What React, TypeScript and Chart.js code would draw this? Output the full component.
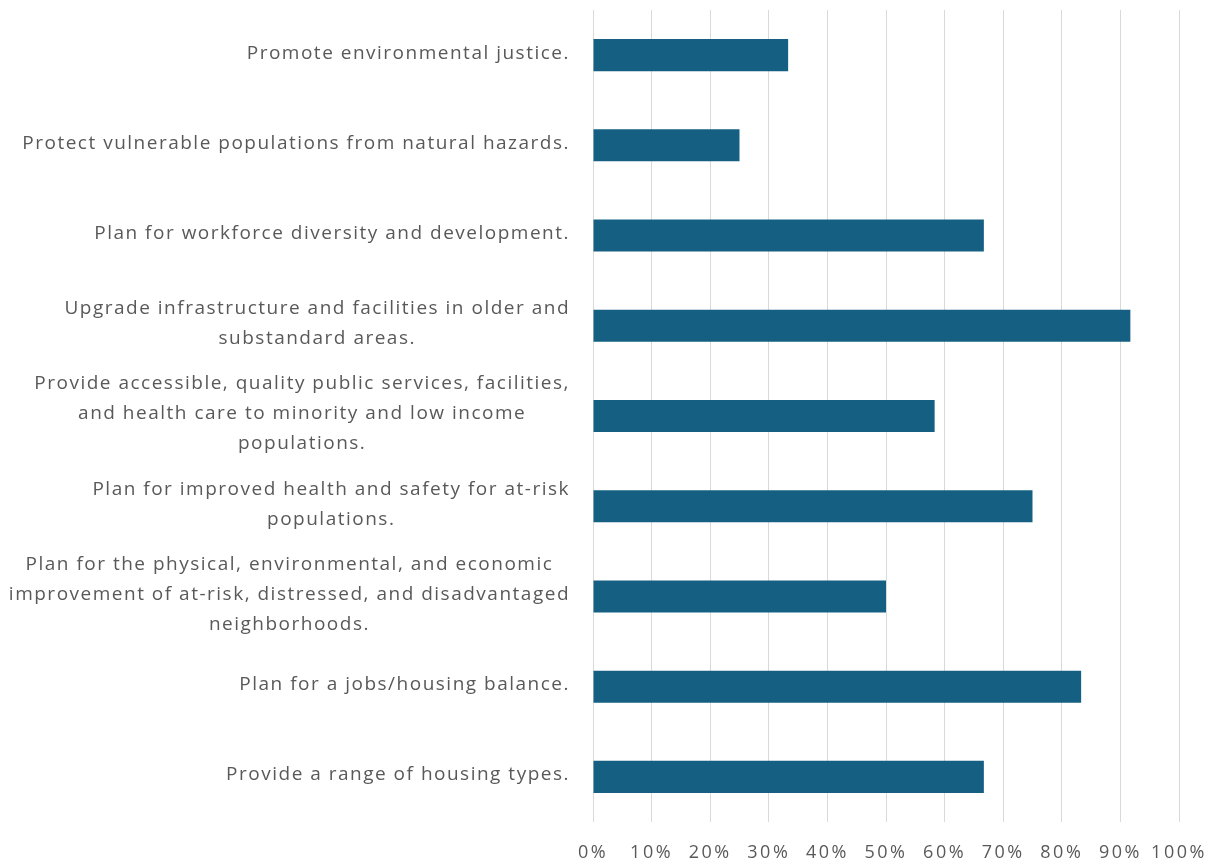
import React, { useEffect, useRef } from "react";
import { Chart, registerables } from "chart.js";

Chart.register(...registerables);

const categories: string[][] = [
  ["Promote environmental justice."],
  ["Protect vulnerable populations from natural hazards."],
  ["Plan for workforce diversity and development."],
  ["Upgrade infrastructure and facilities in older and", "substandard areas."],
  ["Provide accessible, quality public services, facilities,", "and health care to minority and low income", "populations."],
  ["Plan for improved health and safety for at-risk", "populations."],
  ["Plan for the physical, environmental, and economic", "improvement of at-risk, distressed, and disadvantaged", "neighborhoods."],
  ["Plan for a jobs/housing balance."],
  ["Provide a range of housing types."],
];

const values: number[] = [33.3, 25, 66.7, 91.7, 58.3, 75, 50, 83.3, 66.7];

const xTicks: number[] = [0, 10, 20, 30, 40, 50, 60, 70, 80, 90, 100];

const FONT = "'Open Sans', 'Liberation Sans', sans-serif";
const TEXT_COLOR = "#595959";

const labelPlugin = {
  id: "blockLabels",
  beforeDraw(chart: any) {
    (chart.ctx as any).letterSpacing = "2.5px";
  },
  afterDraw(chart: any) {
    const ctx = chart.ctx as CanvasRenderingContext2D;
    const yScale = chart.scales.y;
    const rightEdge = yScale.right - 23;
    const lineH = 30;
    ctx.save();
    (ctx as any).letterSpacing = "1.5px";
    ctx.font = `19px ${FONT}`;
    ctx.fillStyle = TEXT_COLOR;
    ctx.textBaseline = "middle";
    ctx.textAlign = "center";
    categories.forEach((lines, i) => {
      const yc = yScale.getPixelForTick(i);
      const widths = lines.map((l) => ctx.measureText(l).width);
      const blockW = Math.max(...widths);
      const cx = rightEdge - blockW / 2;
      const startY = yc - ((lines.length - 1) * lineH) / 2 - 2;
      lines.forEach((l, j) => {
        ctx.fillText(l, cx, startY + j * lineH);
      });
    });
    ctx.restore();
    (ctx as any).letterSpacing = "0px";
  },
};

export default function App() {
  const ref = useRef<HTMLCanvasElement | null>(null);
  useEffect(() => {
    if (!ref.current) return;
    const chart = new Chart(ref.current, {
      type: "bar",
      data: {
        labels: categories.map((c) => c.join(" ")),
        datasets: [
          {
            data: values,
            backgroundColor: "#156082",
            borderWidth: 0,
            barPercentage: 0.355,
            categoryPercentage: 1,
          },
        ],
      },
      options: {
        indexAxis: "y",
        animation: false,
        responsive: true,
        maintainAspectRatio: false,
        layout: { padding: { top: 2, right: 38, bottom: 2, left: 0 } },
        plugins: {
          legend: { display: false },
          tooltip: { enabled: false },
        },
        scales: {
          x: {
            min: 0,
            max: 100,
            afterBuildTicks: (scale: any) => {
              scale.ticks = xTicks.map((v) => ({ value: v }));
            },
            afterFit: (scale: any) => {
              scale.height = 40;
              scale.paddingLeft = 0;
              scale.paddingRight = 0;
            },
            ticks: {
              callback: (v: any) => `${v}%`,
              color: TEXT_COLOR,
              font: { family: FONT, size: 18 },
              padding: 20,
              maxRotation: 0,
            },
            grid: { color: "#d9d9d9", lineWidth: 1, drawTicks: false },
            border: { display: false },
          },
          y: {
            ticks: { display: false },
            grid: { display: false },
            border: { display: false },
            afterFit: (scale: any) => {
              scale.width = 585;
            },
          },
        },
      },
      plugins: [labelPlugin],
    });
    return () => chart.destroy();
  }, []);
  return (
    <div style={{ position: "relative", width: 1209, height: 856 }}>
      <canvas ref={ref} />
    </div>
  );
}
